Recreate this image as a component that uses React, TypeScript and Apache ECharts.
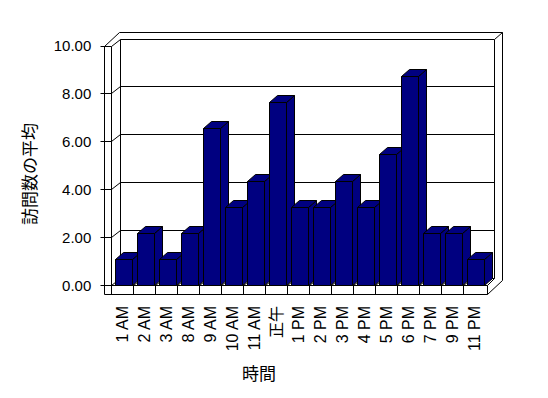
import React, { useEffect, useRef } from "react";
import * as echarts from "echarts";

const categories = ["1 AM", "2 AM", "3 AM", "8 AM", "9 AM", "10 AM", "11 AM", "正午", "1 PM", "2 PM", "3 PM", "4 PM", "5 PM", "6 PM", "7 PM", "9 PM", "11 PM"];
const visitAverages = [1.09, 2.18, 1.09, 2.18, 6.55, 3.27, 4.36, 7.64, 3.27, 3.27, 4.36, 3.27, 5.45, 8.73, 2.18, 2.18, 1.09];
const yTicks = [0, 2, 4, 6, 8, 10];
const yAxisTitle = "訪問数の平均";
const xAxisTitle = "時間";

const LATIN = "'Liberation Sans', Arial, 'Noto Sans CJK JP', sans-serif";
const CJK = "'Noto Sans CJK JP', sans-serif";

export default function App() {
  const ref = useRef<HTMLDivElement>(null);
  useEffect(() => {
    const chart = echarts.init(ref.current!, null, { renderer: "svg" });
    const DX = 9, DY = -7;
    const BDX = 8, BDY = -7.3;
    const s = (v: number) => Math.round(v) + 0.5;
    const lineStyle = { stroke: "#000", lineWidth: 1, fill: null };
    const L = (a: number, b: number, c: number, d: number) => ({
      type: "line",
      shape: { x1: s(a), y1: s(b), x2: s(c), y2: s(d) },
      style: lineStyle,
      silent: true,
    });
    const frameRender = (params: any, api: any) => {
      const bw = api.size([1, 0])[0];
      const c0 = api.coord([0, 0]);
      const x0 = c0[0] - bw / 2;
      const y0 = c0[1];
      const n = categories.length;
      const x1 = x0 + n * bw;
      const y10 = api.coord([0, yTicks[yTicks.length - 1]])[1];
      const ch: any[] = [];
      yTicks.forEach((t) => {
        const y = api.coord([0, t])[1];
        ch.push(L(x0 + DX, y + DY, x1 + DX, y + DY));
        ch.push(L(x0 - 11, y, x0, y));
        ch.push(L(x0, y, x0 + DX, y + DY));
      });
      // left wall
      ch.push(L(x0 - 7.7, y10, x0 - 7.7, y0 + 9));
      ch.push(L(x0, y10, x0, y0 + 9));
      ch.push(L(x0 - 7.7, y10, x0 + 7.3, y10 - 14));
      // back wall
      ch.push(L(x0 + DX, y10 + DY, x0 + DX, y0 + DY));
      ch.push(L(x0 + 7.3, y10 - 14, x1 + 16.4, y10 - 14));
      ch.push(L(x1 + DX, y10 + DY, x1 + DX, y0 + DY));
      ch.push(L(x1 + DX, y10 + DY, x1 + 16.4, y10 - 14));
      ch.push(L(x1 + 16.4, y10 - 14, x1 + 16.4, y0 - 5));
      // floor
      ch.push(L(x0 - 7.7, y0, x1 + 1.4, y0));
      ch.push(L(x0 - 7.7, y0 + 9, x1 + 1.4, y0 + 9));
      for (let k = 1; k < n; k++) {
        const xb = x0 + k * bw;
        ch.push(L(xb, y0, xb, y0 + 9));
        ch.push(L(xb, y0, xb + DX, y0 + DY));
      }
      ch.push(L(x1 + 1.4, y0, x1 + 1.4, y0 + 9));
      ch.push(L(x1 + 1.4, y0, x1 + DX, y0 + DY));
      ch.push(L(x1 + 1.4, y0 + 9, x1 + 16.4, y0 - 5));
      return { type: "group", children: ch };
    };
    const barRender = (params: any, api: any) => {
      const idx = api.value(0);
      const v = api.value(1);
      const top = api.coord([idx, v]);
      const cx = top[0];
      const yT = s(top[1]);
      const yB = s(api.coord([idx, 0])[1]);
      const xl = s(cx - 7.8), xr = s(cx + 9.6);
      const st = { fill: "#000080", stroke: "#000", lineWidth: 1, lineJoin: "miter" };
      const poly = (pts: number[][]) => ({ type: "polygon", shape: { points: pts }, style: st, silent: true });
      const bx = Math.round(BDX), by = Math.round(BDY);
      return {
        type: "group",
        children: [
          poly([[xr, yT], [xr + bx, yT + by], [xr + bx, yB + by], [xr, yB]]),
          poly([[xl, yT], [xl + bx, yT + by], [xr + bx, yT + by], [xr, yT]]),
          poly([[xl, yT], [xr, yT], [xr, yB], [xl, yB]]),
        ],
      };
    };
    chart.setOption({
      animation: false,
      backgroundColor: "#fff",
      grid: { left: 111.3, right: 62.7, top: 45.5, bottom: 113, containLabel: false },
      xAxis: {
        type: "category",
        data: categories,
        axisLine: { show: false },
        axisTick: { show: false },
        splitLine: { show: false },
        axisLabel: { interval: 0, rotate: 90, margin: 21, fontSize: 16, color: "#000", fontFamily: LATIN, padding: [6, 0, 0, 0] },
      },
      yAxis: {
        type: "value",
        min: 0,
        max: 10,
        interval: 2,
        axisLine: { show: false },
        axisTick: { show: false },
        splitLine: { show: false },
        axisLabel: { margin: 20, fontSize: 15, color: "#000", fontFamily: LATIN, formatter: (v: number) => v.toFixed(2) },
      },
      graphic: [
        {
          type: "text",
          x: 28,
          y: 174,
          rotation: Math.PI / 2,
          style: { text: yAxisTitle, fontSize: 17, fontFamily: CJK, fill: "#000", align: "center", verticalAlign: "middle" },
        },
        {
          type: "text",
          x: 259,
          y: 372,
          style: { text: xAxisTitle, fontSize: 17, fontFamily: CJK, fill: "#000", align: "center", verticalAlign: "middle" },
        },
      ],
      series: [
        { type: "custom", z: 1, silent: true, clip: false, renderItem: frameRender, data: [[0, 0]] },
        { type: "custom", z: 2, silent: true, clip: false, renderItem: barRender, data: visitAverages.map((v, i) => [i, v]) },
      ],
    });
    return () => chart.dispose();
  }, []);
  return <div ref={ref} style={{ position: "fixed", left: 0, top: 0, width: 548, height: 398 }} />;
}
